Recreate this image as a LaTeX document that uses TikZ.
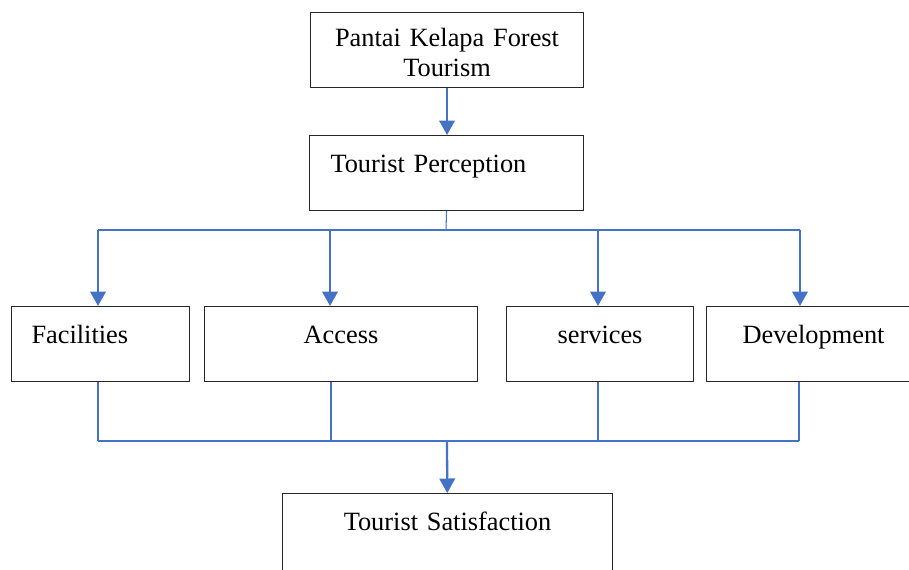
\documentclass[tikz,border=0pt]{standalone}
\usepackage{fontspec}
\setmainfont{Liberation Serif}
\usepackage{tikz}
\usetikzlibrary{arrows.meta, positioning}
\definecolor{linkblue}{HTML}{4472C4}
\tikzset{
    box/.style={draw=black!85, line width=0.6pt, anchor=north west, inner ysep=0pt,
        text height=7.4mm, text depth=7.6mm, font=\fontsize{15}{17.5}\selectfont}, % every box of the chart
    centrebox/.style={box, inner xsep=0pt, text width=#1, align=center}, % text in the middle
    leftbox/.style={box, inner xsep=4.2mm, text width=#1, align=left}, % text at the left side
    link/.style={draw=linkblue, line width=0.6pt}, % thin joining lines
    arr/.style={draw=linkblue, line width=1.3pt, -{Triangle[width=3.1mm,length=2.9mm]}}, % blue arrows
}

\begin{document}
\begin{tikzpicture}[x=0.2mm, y=-0.2mm]
        \useasboundingbox (0,0) rectangle (909,569);

        \node[centrebox=54.6mm, text height=6.7mm, text depth=8.3mm] (forest) at (310,12) {Pantai Kelapa Forest\\Tourism};
        \node[leftbox=46.4mm] (percep) at (309,135) {Tourist Perception};
        \node[leftbox=27.6mm, inner xsep=4mm] (facil) at (11,306) {Facilities};
        \node[centrebox=54.6mm] (access) at (204,306) {Access};
        \node[centrebox=37.4mm] (serv) at (506,306) {services};
        \node[centrebox=42.8mm] (devel) at (706,306) {Development};
        \node[centrebox=66mm, text depth=12mm] (satisf) at (282,493) {Tourist Satisfaction};

        % split under the perception box
        \coordinate (split) at (446,230);
        \coordinate (fa) at (98,230);
        \coordinate (ac) at (330,230);
        \coordinate (se) at (598,230);
        \coordinate (de) at (800,230);

        % join above the satisfaction box
        \coordinate (join) at (447,441);
        \coordinate (fb) at (98,441);
        \coordinate (ab) at (331,441);
        \coordinate (sb) at (598,441);
        \coordinate (db) at (799,441);

        \draw[arr] (forest.south) -- (forest.south |- percep.north);
        \draw[link] (percep.south) -- (split);
        \draw[link] (fa) -- (de);
        \foreach \c/\n in {fa/facil, ac/access, se/serv, de/devel}
            \draw[arr] (\c) -- (\c |- \n.north);

        \foreach \c/\n in {fb/facil, ab/access, sb/serv, db/devel}
            \draw[link] (\c |- \n.south) -- (\c);
        \draw[link] (fb) -- (db);
        \draw[arr] (join) -- (satisf);
    \end{tikzpicture}
\end{document}
